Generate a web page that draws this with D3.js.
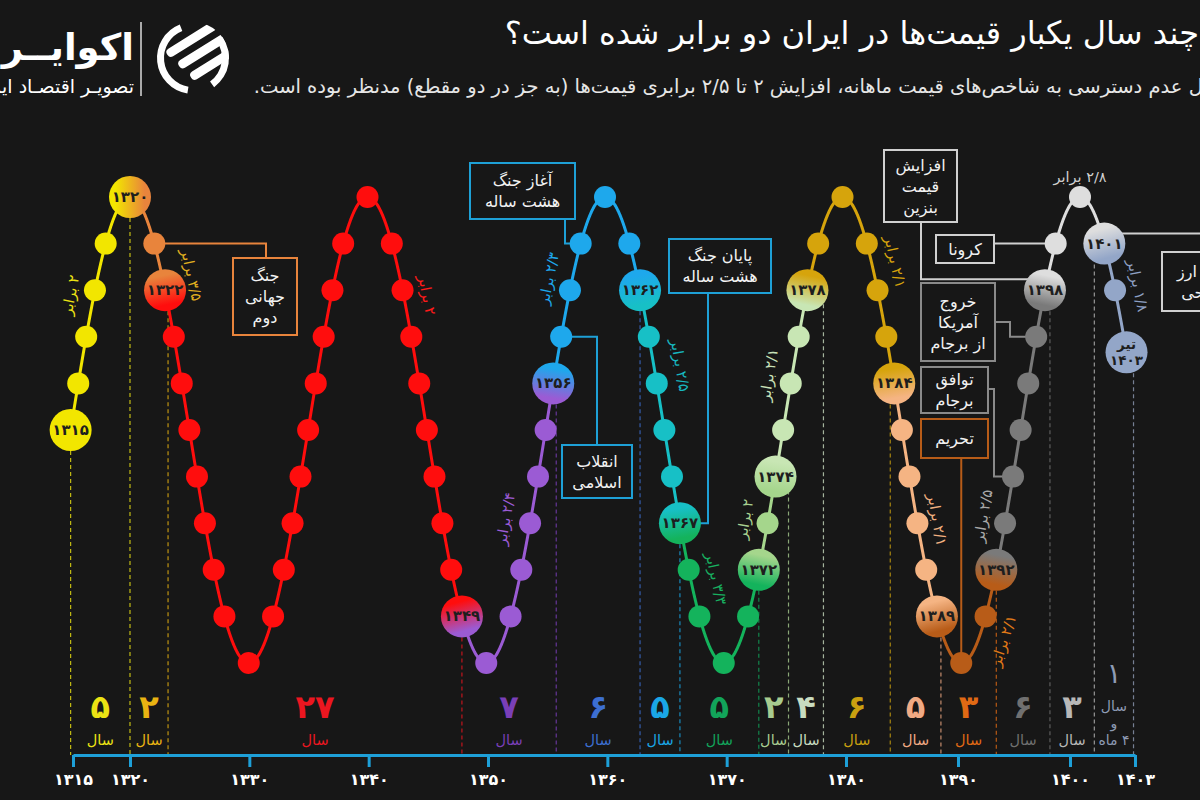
<!DOCTYPE html>
<html lang="fa">
<head>
<meta charset="utf-8">
<title>doubling of prices in Iran</title>
<script src="https://cdn.jsdelivr.net/npm/d3@7/dist/d3.min.js"></script>
<style>
  html, body { margin:0; padding:0; background:#171717; overflow:hidden; }
  svg { display:block; }
  text { font-family: "DejaVu Sans", sans-serif; }
</style>
</head>
<body>
<svg id="chart" width="1200" height="800"></svg>
<script>
// ================= DATA =================
const titleText = "چند سال یکبار قیمت‌ها در ایران دو برابر شده است؟";
const subtitleText = "به دلیل عدم دسترسی به شاخص‌های قیمت ماهانه، افزایش ۲ تا ۲/۵ برابری قیمت‌ها (به جز در دو مقطع) مدنظر بوده است.";
const brandName = "اکوایــران";
const brandTagline = "تصویـر اقتصـاد ایران";

// years where prices had doubled (period boundaries); last one is Tir 1403
const boundaryYears = [1315, 1320, 1322, 1349, 1356, 1362, 1367, 1372, 1374, 1378, 1384, 1389, 1392, 1398, 1401, 1403 + 4/12];
const boundaryNames = ["۱۳۱۵","۱۳۲۰","۱۳۲۲","۱۳۴۹","۱۳۵۶","۱۳۶۲","۱۳۶۷","۱۳۷۲","۱۳۷۴","۱۳۷۸","۱۳۸۴","۱۳۸۹","۱۳۹۲","۱۳۹۸","۱۴۰۱","تیر\n۱۴۰۳"];
const periodLength = ["۵","۲","۲۷","۷","۶","۵","۵","۲","۴","۶","۵","۳","۶","۳","۱"];
const periodUnit = ["سال","سال","سال","سال","سال","سال","سال","سال","سال","سال","سال","سال","سال","سال","سال\nو\n۴ ماه"];
const multipliers = ["۲","۳/۵","۲","۲/۴","۲/۳","۲/۵","۳/۳","۲","۲/۱","۲/۱","۲/۱","۲/۱","۲/۵","۲/۸","۱/۸"];
const waveColors  = ["#f2e600","#e8843c","#ff0d0d","#9b5bd4","#1ea8ec","#17c0c6","#14b35c","#a5d68c","#c8e6b4","#d6a40c","#f5b483","#b85c18","#7a7a7a","#dedede","#93a6c8"];
const labelColors = ["#ece314","#e9b312","#ec1620","#7a3fb8","#3d6fd2","#1aa6e6","#12a45a","#a8cc90","#c9dcc0","#c9a010","#f0aa84","#e06a14","#707070","#b8b8b8","#8e9bb4"];
const multColors  = ["#ece314","#e0b020","#ff1a1a","#9b5bd4","#1ea8ec","#17b8c0","#18b060","#a8d090","#c8e0b8","#d6a40c","#f0b080","#e07a18","#a8a8a8","#d0d0d0","#8ea0c4"];
const axisTicks = [1315,1320,1330,1340,1350,1360,1370,1380,1390,1400,1403];

const eventYears  = [1321, 1359, 1357, 1367, 1398, 1399, 1397, 1394, 1390, 1401];
const eventTexts  = [["جنگ","جهانی","دوم"],["آغاز جنگ","هشت ساله"],["انقلاب","اسلامی"],["پایان جنگ","هشت ساله"],["افزایش","قیمت","بنزین"],["کرونا"],["خروج","آمریکا","از برجام"],["توافق","برجام"],["تحریم"],["حذف ارز","ترجیحی"]];
const eventColors = ["#e8843c","#1ea0d6","#1ea0d6","#1ea0d6","#d0d0d0","#d0d0d0","#8a8a8a","#8a8a8a","#b85c18","#d0d0d0"];

// ================= LAYOUT =================
const W = 1200, H = 800, BG = "#171717";
const AXIS_Y = 755, PEAK_Y = 197, TROUGH_Y = 663;
const NODE_R = 11, BIG_R = 21;
// horizontal nudge of each dashed separator relative to its node
const dashShift = [0, 0, 3, 0, 3, 0, 0, 0, 13, 16, -4, 4, 0, 5, -10, 7];
const multPlacement = [
  {at:1317.8, side:"left"}, {at:1321.8, side:"right", off:29}, {at:1342.2, side:"right"},
  {at:1353, side:"left", off:25}, {at:1358.15, side:"left"}, {at:1363.7, side:"right", off:26},
  {at:1368.3, side:"right", off:25}, {at:1373, side:"left"}, {at:1376.1, side:"left"},
  {at:1381.5, side:"right"}, {at:1387, side:"right", off:20}, {at:1390.64, side:"right", off:24},
  {at:1393.07, side:"left"}, {at:1400, side:"top"}, {at:1402, side:"right"}
];
const eventPlacement = [
  {box:[233,258,64,77],  route:"hv", cx:266},
  {box:[470,163,105,56], route:"hv", cx:565},
  {box:[562,445,70,53],  route:"hv", cx:597},
  {box:[669,239,102,54], route:"hv", cx:708},
  {box:[884,150,73,72],  route:"hv", cx:921, dy:-11},
  {box:[936,235,58,28],  route:"h"},
  {box:[921,283,74,78],  route:"hvh", cx:1010, cy:322},
  {box:[921,367,67,46],  route:"hvh", cx:994, cy:389},
  {box:[921,419,67,39],  route:"v"},
  {box:[1162,252,90,59], route:"hv", cx:1228, dy:-10}
];

// ================= HELPERS =================
const fa = v => String(v).replace(/\d/g, d => "۰۱۲۳۴۵۶۷۸۹"[+d]);
const svg = d3.select("#chart");
const defs = svg.append("defs");
svg.append("rect").attr("width", W).attr("height", H).attr("fill", BG);

// phase (0 = trough, 10 = peak) -> vertical position
const phaseY = d3.scaleLinear().domain([0, 10]).range([TROUGH_Y, PEAK_Y]);
// x of the wave extremes (every 10 years)
const waveX = d3.scaleLinear().domain([1320, 1400]).range([130, 1080]);
// bottom time axis
const axisX = d3.scaleLinear().domain([1315, 1320, 1380, 1400, 1403]).range([73, 130, 846, 1070, 1135]);

// each year is one step along a sinusoid whose half-period is 10 years
function wavePoint(Y) {
  const k = Math.max(0, Math.floor((Y - 1310) / 10));
  const e0 = 1310 + 10 * k;
  const f = Math.min(1, Math.max(0, (Y - e0) / 10));
  const phase = k % 2 === 0 ? 10 * f : 10 * (1 - f);
  const x = waveX(e0) + (waveX(e0 + 10) - waveX(e0)) * Math.acos(1 - 2 * f) / Math.PI;
  return [x, phaseY(phase)];
}
function tangent(Y) {
  const a = wavePoint(Y - 0.02), b = wavePoint(Y + 0.02);
  const dx = b[0] - a[0], dy = b[1] - a[1], L = Math.hypot(dx, dy) || 1;
  return [dx / L, dy / L];
}
const dashX = i => wavePoint(boundaryYears[i])[0] + dashShift[i];

const periods = periodLength.map((len, i) => ({
  i, from: boundaryYears[i], to: boundaryYears[i + 1], len, unit: periodUnit[i],
  mult: multipliers[i], wave: waveColors[i], label: labelColors[i], multColor: multColors[i]
}));

// ================= HEADER =================
svg.append("text").attr("x", 1199).attr("y", 33).attr("direction", "rtl").attr("text-anchor", "start")
  .attr("dominant-baseline", "central").attr("font-size", 32).attr("fill", "#ffffff").text(titleText);
svg.append("text").attr("x", 1246).attr("y", 86).attr("direction", "rtl").attr("text-anchor", "start")
  .attr("dominant-baseline", "central").attr("font-size", 19.5).attr("fill", "#e6e6e6").text(subtitleText);

// logo
svg.append("text").attr("x", 134).attr("y", 47).attr("direction", "rtl").attr("text-anchor", "start")
  .attr("dominant-baseline", "central").attr("font-size", 37).attr("font-weight", "bold").attr("fill", "#ffffff").text(brandName);
svg.append("text").attr("x", 134).attr("y", 86).attr("direction", "rtl").attr("text-anchor", "start")
  .attr("dominant-baseline", "central").attr("font-size", 19).attr("fill", "#ffffff").text(brandTagline);
svg.append("line").attr("x1", 141).attr("x2", 141).attr("y1", 22).attr("y2", 96).attr("stroke", "#dddddd").attr("stroke-width", 1.5);
const logo = svg.append("g").attr("transform", "translate(193,58)");
defs.append("clipPath").attr("id", "logoClip").append("circle").attr("r", 36);
logo.append("path").attr("d", d3.arc()({innerRadius: 29, outerRadius: 36, startAngle: Math.PI * 1.05, endAngle: Math.PI * 1.88})).attr("fill", "#ffffff");
logo.append("path").attr("d", d3.arc()({innerRadius: 29, outerRadius: 36, startAngle: Math.PI * 0.3, endAngle: Math.PI * 0.8})).attr("fill", "#ffffff");
const stripes = logo.append("g").attr("clip-path", "url(#logoClip)").append("g").attr("transform", "rotate(-32)");
[-21, -5, 11].forEach((y, j) => stripes.append("rect").attr("x", -20 + j * 4).attr("y", y).attr("width", 64).attr("height", 9).attr("rx", 4).attr("fill", "#ffffff"));

// ================= DASHED PERIOD SEPARATORS =================
const gDash = svg.append("g");
boundaryYears.forEach((b, i) => {
  const y = wavePoint(b)[1];
  const x = dashX(i);
  gDash.append("line").attr("x1", x).attr("x2", x).attr("y1", y).attr("y2", AXIS_Y)
    .attr("stroke", labelColors[Math.max(0, i - 1)]).attr("stroke-width", 1.2)
    .attr("stroke-dasharray", "4,3").attr("opacity", 0.8);
});

// ================= WAVE =================
const lineGen = d3.line();
const gWave = svg.append("g");
periods.forEach(p => {
  const pts = d3.range(p.from, p.to, 0.01).map(wavePoint);
  pts.push(wavePoint(p.to));
  gWave.append("path").attr("d", lineGen(pts)).attr("fill", "none")
    .attr("stroke", p.wave).attr("stroke-width", 3).attr("stroke-linejoin", "round");
});

// ================= EVENTS =================
const gEv = svg.append("g");
eventYears.forEach((yr, i) => {
  const [nx, ny] = wavePoint(yr);
  const pl = eventPlacement[i];
  const [bx, by, bw, bh] = pl.box;
  const sy = ny + (pl.dy || 0);
  let pts;
  if (pl.route === "hv") { const ey = by > sy ? by : by + bh; pts = [[nx, sy], [pl.cx, sy], [pl.cx, ey]]; }
  else if (pl.route === "hvh") { pts = [[nx, sy], [pl.cx, sy], [pl.cx, pl.cy], [bx + bw, pl.cy]]; }
  else if (pl.route === "v") { pts = [[nx, sy], [nx, by + bh]]; }
  else { pts = [[nx, sy], [bx + bw, sy]]; }
  gEv.append("path").attr("d", lineGen(pts)).attr("fill", "none").attr("stroke", eventColors[i]).attr("stroke-width", 2);
  gEv.append("rect").attr("x", bx).attr("y", by).attr("width", bw).attr("height", bh)
    .attr("fill", BG).attr("stroke", eventColors[i]).attr("stroke-width", 2);
  const lines = eventTexts[i], lh = 21;
  lines.forEach((t, j) => {
    gEv.append("text").attr("x", bx + bw / 2).attr("y", by + bh / 2 - (lines.length - 1) * lh / 2 + j * lh)
      .attr("direction", "rtl").attr("text-anchor", "middle").attr("dominant-baseline", "central")
      .attr("font-size", 16).attr("fill", "#f2f2f2").text(t);
  });
});

// ================= NODES =================
const gNodes = svg.append("g");
periods.forEach(p => {
  for (let Y = Math.floor(p.from) + 1; Y < p.to - 0.5; Y++) {
    const [x, y] = wavePoint(Y);
    gNodes.append("circle").attr("cx", x).attr("cy", y).attr("r", NODE_R).attr("fill", p.wave);
  }
});
boundaryYears.forEach((b, i) => {
  const [x, y] = wavePoint(b);
  const t = tangent(b);
  const cIn = waveColors[Math.max(0, i - 1)], cOut = waveColors[Math.min(periods.length - 1, i)];
  const g = defs.append("linearGradient").attr("id", "ng" + i).attr("gradientUnits", "userSpaceOnUse")
    .attr("x1", x - BIG_R * t[0]).attr("y1", y - BIG_R * t[1]).attr("x2", x + BIG_R * t[0]).attr("y2", y + BIG_R * t[1]);
  g.append("stop").attr("offset", 0.15).attr("stop-color", cIn);
  g.append("stop").attr("offset", 0.85).attr("stop-color", cOut);
  gNodes.append("circle").attr("cx", x).attr("cy", y).attr("r", BIG_R).attr("fill", "url(#ng" + i + ")");
  const parts = boundaryNames[i].split("\n");
  parts.forEach((s, j) => {
    gNodes.append("text").attr("x", x).attr("y", y + (j - (parts.length - 1) / 2) * 16)
      .attr("direction", "rtl").attr("text-anchor", "middle").attr("dominant-baseline", "central")
      .attr("font-size", parts.length > 1 ? 13.5 : 15).attr("font-weight", "bold").attr("fill", "#1e1e1e").text(s);
  });
});

// ================= MULTIPLIER LABELS =================
const gMult = svg.append("g");
periods.forEach((p, i) => {
  const pl = multPlacement[i];
  const [x, y] = wavePoint(pl.at);
  let tx, ty, ang;
  if (pl.side === "top") { tx = x; ty = y - 20; ang = 0; }
  else {
    const t = tangent(pl.at);
    let n = [-t[1], t[0]];
    if ((pl.side === "right" && n[0] < 0) || (pl.side === "left" && n[0] > 0)) n = [-n[0], -n[1]];
    const off = pl.off || 23;
    tx = x + n[0] * off; ty = y + n[1] * off;
    ang = Math.atan2(t[1], t[0]) * 180 / Math.PI;
  }
  gMult.append("text").attr("transform", `translate(${tx},${ty}) rotate(${ang})`)
    .attr("direction", "rtl").attr("text-anchor", "middle").attr("dominant-baseline", "central")
    .attr("font-size", 14.5).attr("fill", p.multColor).text(p.mult + " برابر");
});

// ================= PERIOD LENGTH LABELS =================
const gLen = svg.append("g");
periods.forEach(p => {
  const cx = (dashX(p.i) + dashX(p.i + 1)) / 2;
  const units = p.unit.split("\n");
  if (units.length === 1) {
    gLen.append("text").attr("x", cx).attr("y", 707).attr("text-anchor", "middle").attr("dominant-baseline", "central")
      .attr("font-size", 32).attr("font-weight", "bold").attr("fill", p.label).text(p.len);
    gLen.append("text").attr("x", cx).attr("y", 740).attr("direction", "rtl").attr("text-anchor", "middle")
      .attr("dominant-baseline", "central").attr("font-size", 14.5).attr("fill", p.label).text(units[0]);
  } else {
    gLen.append("text").attr("x", cx).attr("y", 673).attr("text-anchor", "middle").attr("dominant-baseline", "central")
      .attr("font-size", 28).attr("fill", p.label).text(p.len);
    units.forEach((u, j) => {
      gLen.append("text").attr("x", cx).attr("y", 706 + j * 17).attr("direction", "rtl").attr("text-anchor", "middle")
        .attr("dominant-baseline", "central").attr("font-size", 14).attr("fill", p.label).text(u);
    });
  }
});

// ================= AXIS =================
const gAxis = svg.append("g").attr("transform", `translate(0,${AXIS_Y})`)
  .call(d3.axisBottom(axisX).tickValues(axisTicks).tickFormat(fa).tickSize(12).tickSizeOuter(0).tickPadding(7));
gAxis.select(".domain").attr("stroke", "#1ea0d8").attr("stroke-width", 3);
gAxis.selectAll(".tick line").attr("stroke", "#1ea0d8").attr("stroke-width", 3);
gAxis.selectAll(".tick text").attr("fill", "#ffffff").attr("font-size", 16).attr("font-weight", "bold")
  .attr("font-family", "DejaVu Sans, sans-serif");
</script>
</body>
</html>
